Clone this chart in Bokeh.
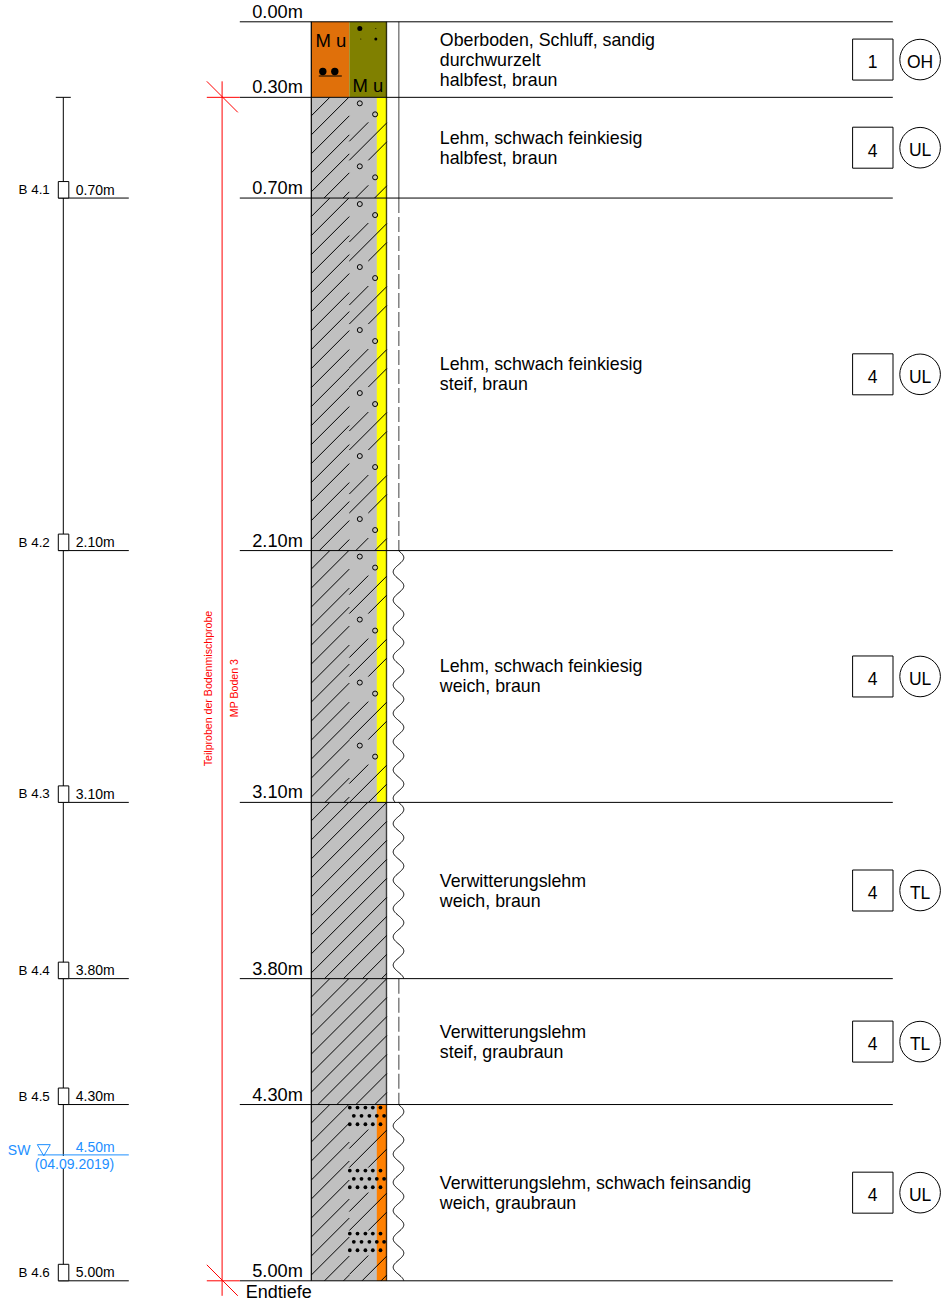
import numpy as np
from bokeh.plotting import figure
from bokeh.models import Range1d
from bokeh.core.properties import value
from bokeh.embed import file_html
from bokeh.resources import INLINE

# ---- data ----
layer_depths = [0.00, 0.30, 0.70, 2.10, 3.10, 3.80, 4.30, 5.00]
layer_labels = ["0.00m", "0.30m", "0.70m", "2.10m", "3.10m", "3.80m", "4.30m", "5.00m"]
layer_texts = [
    ["Oberboden, Schluff, sandig", "durchwurzelt", "halbfest, braun"],
    ["Lehm, schwach feinkiesig", "halbfest, braun"],
    ["Lehm, schwach feinkiesig", "steif, braun"],
    ["Lehm, schwach feinkiesig", "weich, braun"],
    ["Verwitterungslehm", "weich, braun"],
    ["Verwitterungslehm", "steif, graubraun"],
    ["Verwitterungslehm, schwach feinsandig", "weich, graubraun"],
]
layer_class = ["1", "4", "4", "4", "4", "4", "4"]
layer_group = ["OH", "UL", "UL", "UL", "TL", "TL", "UL"]
layer_soil = ["top", "gravel", "gravel", "gravel", "plain", "plain", "sand"]
layer_water = ["solid", "solid", "dash", "wave", "wave", "dash", "wave"]

sample_names = ["B 4.1", "B 4.2", "B 4.3", "B 4.4", "B 4.5", "B 4.6"]
sample_depths = [0.70, 2.10, 3.10, 3.80, 4.30, 5.00]
sample_labels = ["0.70m", "2.10m", "3.10m", "3.80m", "4.30m", "5.00m"]
sample_top = 0.30
water_depth = 4.50
water_label = "4.50m"
water_date = "(04.09.2019)"
end_label = "Endtiefe"
mix_labels = ["Teilproben der Bodenmischprobe", "MP Boden 3"]

# ---- scale: 1 data unit on x is one pixel, depth on y ----
PX = 251.8
Y0 = 21.3
D = lambda px: px / PX                 # pixel length -> depth length
FONT = value("Liberation Sans")

W, H = 943, 1301
p = figure(width=W, height=H, output_backend="svg", toolbar_location=None,
           x_range=Range1d(0.7, W + 0.7),
           y_range=Range1d((H - Y0) / PX, (0 - Y0) / PX),
           x_axis_type=None, y_axis_type=None, min_border=0,
           outline_line_color=None)
p.grid.visible = False
p.background_fill_color = "white"


def label(x, d, txt, size, color="black", align="left", dy=0, angle=0):
    p.text([x], [d], text=[txt], text_font=FONT, text_font_size=f"{size}px",
           text_color=color, text_align=align, text_baseline="middle", y_offset=dy, angle=angle)


def seg(x0, d0, x1, d1, color="black", w=1.0, alpha=1.0, dash="solid"):
    p.segment([x0], [d0], [x1], [d1], line_color=color, line_width=w, line_alpha=alpha, line_dash=dash)


XL, XM, XS, XR = 311.5, 349.5, 377, 387

# ---- column fills ----
GRAY, YEL, ORA, OCHRE, OLIVE = "#C0C0C0", "#FFFF00", "#FF8000", "#E0700A", "#808000"
xs_h, ys_h = [], []


def hatch_line(s, x0, x1, t, b):
    """45 degree stroke x + y = s, clipped to x0..x1 and the layer t..b (px)."""
    a, c = max(x0, s - b), min(x1, s - t)
    if c > a:
        xs_h.append([a, c])
        ys_h.append([D(s - a - Y0), D(s - c - Y0)])


circ_x, circ_y, dot_x, dot_y = [], [], [], []
for i, soil in enumerate(layer_soil):
    d0, d1 = layer_depths[i], layer_depths[i + 1]
    t, b = Y0 + d0 * PX, Y0 + d1 * PX
    if soil == "top":
        p.quad(left=[XL], right=[XM], top=[d0], bottom=[d1], fill_color=OCHRE, line_color=None)
        p.quad(left=[XM], right=[XR], top=[d0], bottom=[d1], fill_color=OLIVE, line_color=None)
        continue
    p.quad(left=[XL], right=[XR], top=[d0], bottom=[d1], fill_color=GRAY, line_color=None)
    if soil == "gravel":
        p.quad(left=[XS], right=[XR], top=[d0], bottom=[d1], fill_color=YEL, line_color=None)
    if soil == "sand":
        p.quad(left=[XS], right=[XR], top=[d0], bottom=[d1], fill_color=ORA, line_color=None)
    if soil == "plain":
        for k in range(-1, 60):
            hatch_line(XL + t + 18.5 + 19 * k, XL, XR, t, b)
    else:
        for k in range(-1, 60):
            hatch_line(XL + t + 18.5 + 19 * k, XL, 349.5, t, b)
        n = 0
        while t + 63 * n < b + 63:
            o = t + 63 * n
            hatch_line(349.5 + o + 44, 349.5, 368.5, t, b)
            hatch_line(349.5 + o + 63, 349.5, XR, t, b)
            hatch_line(368.5 + o + 63, 368.5, XR, t, b)
            n += 1
        n = 0
        while t + 63 * n < b:
            o = t + 63 * n
            if soil == "gravel":
                if o + 6 < b:
                    circ_x.append(360); circ_y.append(D(o + 6 - Y0))
                if o + 17 < b:
                    circ_x.append(375.3); circ_y.append(D(o + 17 - Y0))
            else:
                for r, off in enumerate([3, 11.3, 19.7]):
                    if o + off < b:
                        base = [350, 357.7, 365.6, 373, 380.7] if r != 1 else [354, 361.7, 369.6, 377, 384.3]
                        for bx in base:
                            dot_x.append(bx); dot_y.append(D(o + off - Y0))
            n += 1

p.multi_line(xs_h, ys_h, line_color="black", line_width=1.0)
p.scatter(circ_x, circ_y, size=5, marker="circle", fill_color=None, line_color="black", line_width=1.0)
p.scatter(dot_x, dot_y, size=3.8, marker="circle", fill_color="black", line_color=None)

seg(XL, 0, XL, 5.0, w=1.2)
seg(XR - 0.3, 0, XR - 0.3, 5.0, w=1.4, alpha=0.7)

# top layer symbols
label(331, D(40 - Y0), "M u", 18.5, align="center")
label(368, D(84.6 - Y0), "M u", 18.5, align="center")
p.scatter([323, 335], [D(71 - Y0)] * 2, size=7.4, marker="circle", fill_color="black", line_color=None)
seg(319, D(75.5 - Y0), 342, D(75.5 - Y0), w=1.2)
p.scatter([360, 376, 376, 361], [D(28 - Y0), D(38.5 - Y0), D(28 - Y0), D(38.5 - Y0)],
          size=[5, 3, 1, 1], marker="circle", fill_color="black", line_color=None)

# ---- water column line ----
XW = 399
for i, kind in enumerate(layer_water):
    d0, d1 = layer_depths[i], layer_depths[i + 1]
    if kind == "solid":
        seg(XW, d0, XW, d1, color="#808080", w=1.5)
    elif kind == "dash":
        seg(XW, d0, XW, d1, color="#808080", w=1.5, dash="15 4")
    else:
        t_px = np.arange(0, (d1 - d0) * PX + 0.5, 1.0)
        p.line(398.7 + 5.3 * np.sin(2 * np.pi * t_px / 28.3), d0 + t_px / PX,
               line_color="black", line_width=1.0)

# ---- layer rules, depth labels, descriptions, class boxes ----
for d, lab in zip(layer_depths, layer_labels):
    seg(240, d, 893, d, w=1.0)
    label(303, d, lab, 18.2, align="right", dy=-10)

for i, lines in enumerate(layer_texts):
    c = (layer_depths[i] + layer_depths[i + 1]) / 2
    n = len(lines)
    for j, line in enumerate(lines):
        label(440, c, line, 17.8, dy=(j - (n - 1) / 2) * 20)
    p.quad(left=[852.8], right=[893.2], top=[c - D(20.5)], bottom=[c + D(20.5)],
           fill_color="white", line_color="black", line_width=1)
    p.circle([920.3], [c], radius=20.3, radius_dimension="x", fill_color="white",
             line_color="black", line_width=1)
    label(872.8, c, layer_class[i], 17.5, align="center", dy=2.3)
    label(920.3, c, layer_group[i], 17.5, align="center", dy=2.3)

label(246, 5.0, end_label, 18, dy=11)

# ---- sample column ----
XB = 63.5
seg(XB, sample_top, XB, sample_depths[-1], w=1.0)
seg(56, sample_top, 71, sample_top, w=1.0)
for name, d, lab in zip(sample_names, sample_depths, sample_labels):
    seg(58.5, d, 129, d, w=1.0)
    p.quad(left=[58.5], right=[69], top=[d - D(16.5)], bottom=[d], fill_color="white",
           line_color="black", line_width=1)
    label(50, d, name, 13.4, align="right", dy=-8.5)
    label(76, d, lab, 14, dy=-8.5)

BLUE = "#1E8FFF"
p.quad(left=[35], right=[113], top=[water_depth + D(1)], bottom=[water_depth + D(14)],
       fill_color="white", line_color=None)
seg(38, water_depth, 129, water_depth, color=BLUE, w=1.0)
p.scatter([44], [water_depth - D(6.5)], size=13, marker="inverted_triangle", fill_color=None,
          line_color=BLUE, line_width=1)
label(8, water_depth, "SW", 14, color=BLUE, dy=-5.4)
label(76, water_depth, water_label, 14, color=BLUE, dy=-8)
label(35, water_depth, water_date, 14, color=BLUE, dy=9)

# ---- mix sample bracket ----
RED = "#FF0000"
XT = 222.3
seg(XT, 0.30 - D(16), XT, 5.0 + D(15), color=RED)
for d in (0.30, 5.0):
    seg(207, d, 240, d, color=RED)
    seg(207, d - D(16), 238, d + D(15), color=RED)
label(208.5, D(688 - Y0), mix_labels[0], 10.6, color=RED, align="center", angle=np.pi / 2)
label(234.5, D(687.5 - Y0), mix_labels[1], 10.6, color=RED, align="center", angle=np.pi / 2)

open("out.html", "w").write(file_html(p, INLINE))
